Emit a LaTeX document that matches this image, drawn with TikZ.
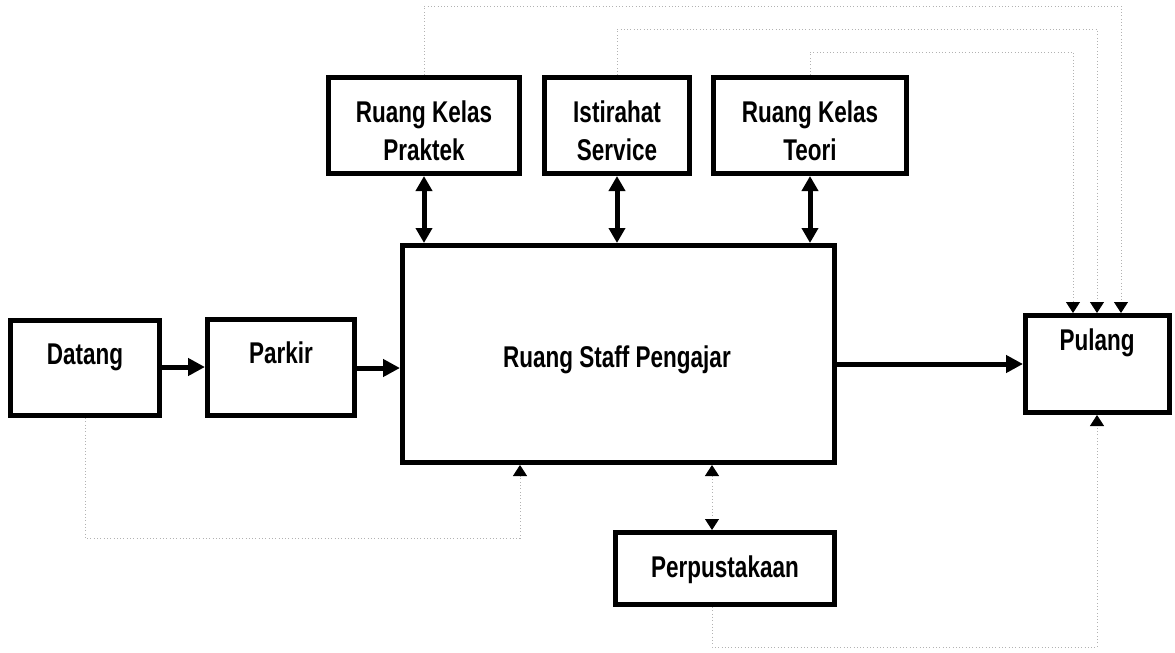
\documentclass[tikz,border=0pt]{standalone}
\usepackage{fontspec}
\usetikzlibrary{arrows.meta}
\newfontfamily\boxfont{Liberation Sans Bold}[FakeStretch=0.75]
\begin{document}
\begin{tikzpicture}[x=1pt, y=-1pt,
  box/.style={draw, line width=5pt, inner sep=0pt},
  lbl/.style={anchor=base, inner sep=0pt, font=\boxfont\fontsize{30}{38}\selectfont},
  flow/.style={line width=5pt, -{Triangle[length=17pt,width=17pt]}},
  both/.style={line width=5pt, {Triangle[length=15pt,width=16pt]}-{Triangle[length=15pt,width=16pt]}},
  faint/.style={draw=black!30, line width=0.8pt, dash pattern=on 0.8pt off 2.5pt},
  ftip/.style={-{Triangle[length=11pt,width=14pt,color=black]}},
  ftips/.style={{Triangle[length=11pt,width=14pt,color=black]}-{Triangle[length=11pt,width=14pt,color=black]}}
]
\useasboundingbox (0,0) rectangle (1175,653);

% boxes
\node[box, minimum width=149pt, minimum height=95pt] (datang) at (85,368) {};
\node[box, minimum width=147pt, minimum height=96pt] (parkir) at (281,367.5) {};
\node[box, minimum width=432pt, minimum height=217pt] (staff) at (618.5,354) {};
\node[box, minimum width=191pt, minimum height=96pt] (praktek) at (424,125.5) {};
\node[box, minimum width=145pt, minimum height=96pt] (istirahat) at (617,125.5) {};
\node[box, minimum width=193pt, minimum height=96pt] (teori) at (810,125.5) {};
\node[box, minimum width=144pt, minimum height=97pt] (pulang) at (1097.5,364) {};
\node[box, minimum width=219pt, minimum height=72pt] (pustaka) at (725,568.5) {};

% labels
\node[lbl] (tdatang) at (85,364) {Datang};
\node[lbl] (tparkir) at (281,363) {Parkir};
\node[lbl] (tstaff) at (617,367) {Ruang Staff Pengajar};
\node[lbl] (tpulang) at (1097,350) {Pulang};
\node[lbl] (tpustaka) at (725,577) {Perpustakaan};
\node[lbl] (tpraktek1) at (424,122) {Ruang Kelas};
\node[lbl] (tpraktek2) at (424,160) {Praktek};
\node[lbl] (tistirahat1) at (617,122) {Istirahat};
\node[lbl] (tistirahat2) at (617,160) {Service};
\node[lbl] (tteori1) at (810,122) {Ruang Kelas};
\node[lbl] (tteori2) at (810,160) {Teori};

% main flow
\draw[flow] (datang.east |- 0,367) -- (parkir.west |- 0,367);
\draw[flow] (parkir.east |- 0,368) -- (staff.west |- 0,368);
\draw[flow] (staff.east |- pulang) -- (pulang.west);

% two-way links to the upper rooms
\draw[both] (praktek.south) -- (praktek.south |- staff.north);
\draw[both] (istirahat.south) -- (istirahat.south |- staff.north);
\draw[both] (teori.south) -- (teori.south |- staff.north);

% light dotted links
\coordinate (ka) at (85,538);
\coordinate (kb) at (520,538);
\draw[faint, ftip] (datang.south) -- (ka) -- (kb) -- (kb |- staff.south);

\coordinate (pa) at (712,0);
\draw[faint, ftips] (pa |- staff.south) -- (pa |- pustaka.north);

\coordinate (pb) at (712,647);
\coordinate (pc) at (1097,647);
\draw[faint, ftip] (pa |- pustaka.south) -- (pb) -- (pc) -- (pc |- pulang.south);

\coordinate (ua) at (424,6);
\coordinate (ub) at (1121,6);
\draw[faint, ftip] (praktek.north) -- (ua) -- (ub) -- (ub |- pulang.north);

\coordinate (va) at (617,29);
\coordinate (vb) at (1097,29);
\draw[faint, ftip] (istirahat.north) -- (va) -- (vb) -- (vb |- pulang.north);

\coordinate (wa) at (810,52);
\coordinate (wb) at (1073,52);
\draw[faint, ftip] (teori.north) -- (wa) -- (wb) -- (wb |- pulang.north);
\end{tikzpicture}
\end{document}
